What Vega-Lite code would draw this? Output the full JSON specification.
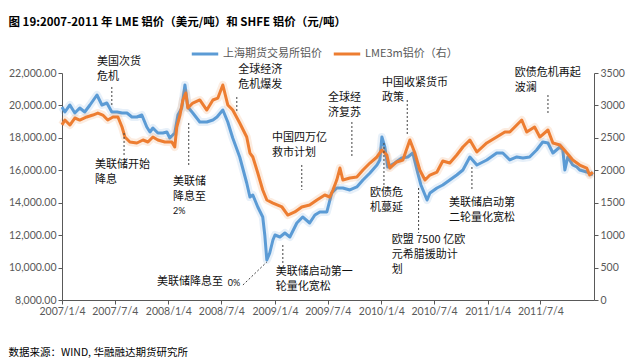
{
  "$schema": "https://vega.github.io/schema/vega-lite/v6.json",
  "autosize": {"type": "none"},
  "padding": {"left": 62, "top": 73, "right": 46, "bottom": 62},
  "width": 532,
  "height": 227,
  "background": "white",
  "config": {
    "view": {"stroke": null},
    "axis": {
      "grid": false,
      "labelFont": "Lato",
      "labelFontSize": 10.5,
      "labelColor": "#595959",
      "domainColor": "#595959",
      "tickColor": "#595959",
      "tickSize": 4,
      "labelPadding": 2
    },
    "legend": {
      "orient": "none",
      "legendX": 128,
      "legendY": -34,
      "direction": "horizontal",
      "symbolType": "stroke",
      "symbolSize": 700,
      "symbolStrokeWidth": 3,
      "labelFont": "Noto Sans CJK SC",
      "labelFontSize": 11,
      "labelColor": "#595959",
      "labelOffset": 3,
      "columnPadding": 5
    }
  },
  "datasets": {
    "shfe": [
      {"d": "2007-01-04", "v": 19903}, {"d": "2007-01-14", "v": 19595}, {"d": "2007-01-31", "v": 20027},
      {"d": "2007-02-17", "v": 19533}, {"d": "2007-03-06", "v": 19842}, {"d": "2007-03-23", "v": 19595},
      {"d": "2007-04-10", "v": 20027}, {"d": "2007-05-04", "v": 20643}, {"d": "2007-05-21", "v": 20027},
      {"d": "2007-06-07", "v": 20150}, {"d": "2007-06-24", "v": 19595}, {"d": "2007-07-12", "v": 19595},
      {"d": "2007-07-29", "v": 19533}, {"d": "2007-08-15", "v": 19533}, {"d": "2007-09-01", "v": 19287},
      {"d": "2007-09-18", "v": 19287}, {"d": "2007-10-05", "v": 19410}, {"d": "2007-10-22", "v": 18670},
      {"d": "2007-11-02", "v": 18361}, {"d": "2007-11-12", "v": 18608}, {"d": "2007-11-29", "v": 18300},
      {"d": "2007-12-16", "v": 18300}, {"d": "2007-12-30", "v": 18361}, {"d": "2008-01-09", "v": 17991},
      {"d": "2008-01-26", "v": 18300}, {"d": "2008-02-06", "v": 19410}, {"d": "2008-02-19", "v": 19842},
      {"d": "2008-03-01", "v": 21260}, {"d": "2008-03-11", "v": 19903}, {"d": "2008-03-28", "v": 19533},
      {"d": "2008-04-21", "v": 18978}, {"d": "2008-05-15", "v": 18978}, {"d": "2008-06-05", "v": 19102},
      {"d": "2008-06-19", "v": 19287}, {"d": "2008-07-09", "v": 19718}, {"d": "2008-07-26", "v": 18978},
      {"d": "2008-08-12", "v": 17991}, {"d": "2008-09-05", "v": 16820}, {"d": "2008-09-29", "v": 15216},
      {"d": "2008-10-10", "v": 14353}, {"d": "2008-10-20", "v": 14476}, {"d": "2008-11-06", "v": 13736},
      {"d": "2008-11-23", "v": 13120}, {"d": "2008-11-30", "v": 12009}, {"d": "2008-12-07", "v": 10468},
      {"d": "2008-12-17", "v": 10899}, {"d": "2008-12-28", "v": 11701}, {"d": "2009-01-04", "v": 12009},
      {"d": "2009-01-21", "v": 11886}, {"d": "2009-02-07", "v": 12133}, {"d": "2009-02-24", "v": 11886},
      {"d": "2009-03-20", "v": 12749}, {"d": "2009-04-09", "v": 13120}, {"d": "2009-05-03", "v": 12749},
      {"d": "2009-05-21", "v": 13243}, {"d": "2009-06-07", "v": 13428}, {"d": "2009-07-01", "v": 13428},
      {"d": "2009-07-18", "v": 14600}, {"d": "2009-08-04", "v": 14908}, {"d": "2009-08-25", "v": 14908},
      {"d": "2009-09-18", "v": 14785}, {"d": "2009-10-12", "v": 14970}, {"d": "2009-11-02", "v": 15401},
      {"d": "2009-11-26", "v": 15833}, {"d": "2009-12-20", "v": 16326}, {"d": "2009-12-30", "v": 16635},
      {"d": "2010-01-06", "v": 18053}, {"d": "2010-01-16", "v": 17436}, {"d": "2010-01-26", "v": 16203},
      {"d": "2010-02-19", "v": 16450}, {"d": "2010-03-15", "v": 16758}, {"d": "2010-04-05", "v": 16820},
      {"d": "2010-04-22", "v": 17066}, {"d": "2010-05-09", "v": 15833}, {"d": "2010-05-20", "v": 15093},
      {"d": "2010-05-27", "v": 14785}, {"d": "2010-06-10", "v": 14168}, {"d": "2010-06-20", "v": 14600},
      {"d": "2010-07-14", "v": 14908}, {"d": "2010-08-03", "v": 15093}, {"d": "2010-08-27", "v": 15401},
      {"d": "2010-09-20", "v": 15710}, {"d": "2010-10-11", "v": 16018}, {"d": "2010-11-04", "v": 16820},
      {"d": "2010-11-28", "v": 16326}, {"d": "2011-01-01", "v": 16635}, {"d": "2011-02-04", "v": 17066},
      {"d": "2011-02-25", "v": 17066}, {"d": "2011-03-21", "v": 16635}, {"d": "2011-04-14", "v": 16820},
      {"d": "2011-05-05", "v": 16758}, {"d": "2011-05-28", "v": 16820}, {"d": "2011-06-21", "v": 17251},
      {"d": "2011-07-12", "v": 17745}, {"d": "2011-07-30", "v": 17683}, {"d": "2011-08-16", "v": 17066},
      {"d": "2011-09-09", "v": 17436}, {"d": "2011-09-19", "v": 17251}, {"d": "2011-09-26", "v": 16018},
      {"d": "2011-10-06", "v": 16820}, {"d": "2011-10-23", "v": 16326}, {"d": "2011-11-06", "v": 16203},
      {"d": "2011-11-16", "v": 16018}, {"d": "2011-12-10", "v": 15895}, {"d": "2011-12-31", "v": 15710}
    ],
    "lme": [
      {"d": "2007-01-04", "v": 2700}, {"d": "2007-01-14", "v": 2775}, {"d": "2007-01-31", "v": 2698},
      {"d": "2007-02-17", "v": 2806}, {"d": "2007-03-06", "v": 2775}, {"d": "2007-03-30", "v": 2822},
      {"d": "2007-04-20", "v": 2852}, {"d": "2007-05-07", "v": 2883}, {"d": "2007-05-24", "v": 2852},
      {"d": "2007-06-10", "v": 2775}, {"d": "2007-06-28", "v": 2822}, {"d": "2007-07-15", "v": 2822},
      {"d": "2007-07-29", "v": 2667}, {"d": "2007-08-08", "v": 2513}, {"d": "2007-08-25", "v": 2436},
      {"d": "2007-09-18", "v": 2421}, {"d": "2007-10-09", "v": 2467}, {"d": "2007-10-26", "v": 2436},
      {"d": "2007-11-12", "v": 2513}, {"d": "2007-11-29", "v": 2467}, {"d": "2007-12-23", "v": 2436},
      {"d": "2008-01-16", "v": 2436}, {"d": "2008-01-26", "v": 2359}, {"d": "2008-02-02", "v": 2667},
      {"d": "2008-02-13", "v": 2852}, {"d": "2008-02-23", "v": 3084}, {"d": "2008-03-04", "v": 3192},
      {"d": "2008-03-11", "v": 2960}, {"d": "2008-03-28", "v": 3037}, {"d": "2008-04-21", "v": 3084},
      {"d": "2008-05-15", "v": 2929}, {"d": "2008-06-05", "v": 3084}, {"d": "2008-06-22", "v": 3114},
      {"d": "2008-07-09", "v": 3315}, {"d": "2008-07-26", "v": 3007}, {"d": "2008-08-12", "v": 2929},
      {"d": "2008-09-05", "v": 2729}, {"d": "2008-09-29", "v": 2513}, {"d": "2008-10-10", "v": 2266},
      {"d": "2008-10-20", "v": 2205}, {"d": "2008-11-06", "v": 1958}, {"d": "2008-11-23", "v": 1696},
      {"d": "2008-12-07", "v": 1542}, {"d": "2008-12-28", "v": 1495}, {"d": "2009-01-28", "v": 1434},
      {"d": "2009-02-17", "v": 1310}, {"d": "2009-03-13", "v": 1357}, {"d": "2009-04-06", "v": 1434},
      {"d": "2009-05-03", "v": 1465}, {"d": "2009-05-28", "v": 1542}, {"d": "2009-06-24", "v": 1619},
      {"d": "2009-07-11", "v": 1588}, {"d": "2009-07-22", "v": 1696}, {"d": "2009-08-04", "v": 1850},
      {"d": "2009-08-15", "v": 2035}, {"d": "2009-08-25", "v": 1850}, {"d": "2009-09-18", "v": 1881},
      {"d": "2009-10-12", "v": 1896}, {"d": "2009-11-02", "v": 2004}, {"d": "2009-11-26", "v": 2112},
      {"d": "2009-12-20", "v": 2205}, {"d": "2010-01-06", "v": 2313}, {"d": "2010-01-23", "v": 2236},
      {"d": "2010-02-02", "v": 2035}, {"d": "2010-02-26", "v": 2128}, {"d": "2010-03-19", "v": 2158},
      {"d": "2010-04-12", "v": 2467}, {"d": "2010-04-29", "v": 2266}, {"d": "2010-05-16", "v": 2004},
      {"d": "2010-06-03", "v": 1850}, {"d": "2010-06-20", "v": 1927}, {"d": "2010-07-14", "v": 1973},
      {"d": "2010-08-03", "v": 2143}, {"d": "2010-08-27", "v": 2112}, {"d": "2010-09-20", "v": 2236},
      {"d": "2010-10-11", "v": 2359}, {"d": "2010-11-04", "v": 2467}, {"d": "2010-11-28", "v": 2282},
      {"d": "2011-01-01", "v": 2421}, {"d": "2011-02-04", "v": 2513}, {"d": "2011-03-04", "v": 2590},
      {"d": "2011-03-21", "v": 2590}, {"d": "2011-04-14", "v": 2698}, {"d": "2011-05-01", "v": 2775},
      {"d": "2011-05-18", "v": 2590}, {"d": "2011-06-14", "v": 2667}, {"d": "2011-07-02", "v": 2513},
      {"d": "2011-07-30", "v": 2621}, {"d": "2011-08-16", "v": 2421}, {"d": "2011-09-09", "v": 2390},
      {"d": "2011-10-03", "v": 2266}, {"d": "2011-10-23", "v": 2158}, {"d": "2011-11-16", "v": 2081},
      {"d": "2011-12-10", "v": 2035}, {"d": "2011-12-20", "v": 1927}, {"d": "2011-12-31", "v": 1973}
    ],
    "notes": [
      {"t": "美国次货\n危机", "d": "2007-05-04", "v": 23048},
      {"t": "美联储开始\n降息", "d": "2007-04-27", "v": 16696},
      {"t": "美联储\n降息至", "d": "2008-01-20", "v": 15648},
      {"t": "全球经济\n危机爆发", "d": "2008-08-31", "v": 22555},
      {"t": "中国四万亿\n救市计划", "d": "2008-12-25", "v": 18361},
      {"t": "全球经\n济复苏", "d": "2009-07-05", "v": 20828},
      {"t": "中国收紧货币\n政策", "d": "2010-01-06", "v": 21753},
      {"t": "欧债危\n机蔓延", "d": "2009-11-26", "v": 14970},
      {"t": "欧盟 7500 亿欧\n元希腊援助计\n划", "d": "2010-02-09", "v": 12071},
      {"t": "美联储启动第\n二轮量化宽松", "d": "2010-08-24", "v": 14353},
      {"t": "欧债危机再起\n波澜", "d": "2011-04-07", "v": 22370},
      {"t": "美联储降息至", "d": "2007-11-26", "v": 9481},
      {"t": "美联储启动第一\n轮量化宽松", "d": "2009-01-07", "v": 10098}
    ],
    "small": [
      {"t": "2%", "d": "2008-01-20", "v": 13736},
      {"t": "0%", "d": "2008-07-26", "v": 9296}
    ],
    "leaders": [
      {"d": "2007-06-24", "v": 21137, "v2": 20027},
      {"d": "2007-08-05", "v": 18300, "v2": 16943},
      {"d": "2008-03-14", "v": 18917, "v2": 16203},
      {"d": "2008-08-26", "v": 20520, "v2": 19595},
      {"d": "2009-04-06", "v": 16326, "v2": 14785},
      {"d": "2009-09-25", "v": 18978, "v2": 16820},
      {"d": "2010-04-03", "v": 20335, "v2": 18176},
      {"d": "2010-01-13", "v": 17683, "v2": 14970},
      {"d": "2010-05-12", "v": 14908, "v2": 12133},
      {"d": "2010-11-11", "v": 16203, "v2": 14785},
      {"d": "2011-07-30", "v": 20643, "v2": 19410},
      {"d": "2009-01-31", "v": 11393, "v2": 10160}
    ],
    "diag": [
      {"d": "2008-09-16", "v": 8926, "d2": "2008-12-07", "v2": 10344}
    ]
  },
  "encoding": {
    "x": {
      "field": "d",
      "type": "temporal",
      "scale": {"domain": [{"year": 2007, "month": 1, "date": 4}, {"year": 2012, "month": 1, "date": 4}]},
      "axis": {
        "values": [
          {"year": 2007, "month": 1, "date": 4}, {"year": 2007, "month": 7, "date": 4},
          {"year": 2008, "month": 1, "date": 4}, {"year": 2008, "month": 7, "date": 4},
          {"year": 2009, "month": 1, "date": 4}, {"year": 2009, "month": 7, "date": 4},
          {"year": 2010, "month": 1, "date": 4}, {"year": 2010, "month": 7, "date": 4},
          {"year": 2011, "month": 1, "date": 4}, {"year": 2011, "month": 7, "date": 4}
        ],
        "format": "%Y/%-m/%-d",
        "labelFlush": false,
        "labelOverlap": false,
        "title": "数据来源：WIND, 华融融达期货研究所",
        "titleFont": "Noto Sans CJK SC",
        "titleFontSize": 10.5,
        "titleFontWeight": "normal",
        "titleColor": "#000000",
        "titleAnchor": "start",
        "titleAlign": "left",
        "titleBaseline": "middle",
        "titleX": -54,
        "titleY": 52
      }
    }
  },
  "layer": [
    {
      "data": {"name": "shfe"},
      "mark": {"type": "line", "color": "#5B9BD5", "strokeWidth": 8, "opacity": 0.15, "strokeJoin": "round"},
      "encoding": {
        "y": {"field": "v", "type": "quantitative", "scale": {"domain": [8000, 22000]}, "axis": null}
      }
    },
    {
      "data": {"name": "shfe"},
      "mark": {"type": "line", "strokeWidth": 3, "strokeJoin": "round"},
      "encoding": {
        "y": {
          "field": "v",
          "type": "quantitative",
          "scale": {"domain": [8000, 22000]},
          "axis": {
            "orient": "left",
            "values": [8000, 10000, 12000, 14000, 16000, 18000, 20000, 22000],
            "format": ",.2f",
            "title": "图 19:2007-2011 年 LME 铝价（美元/吨）和 SHFE 铝价（元/吨）",
            "titleAngle": 0,
            "titleAnchor": "start",
            "titleAlign": "left",
            "titleBaseline": "middle",
            "titleX": -54,
            "titleY": -51,
            "titleFont": "Noto Sans CJK SC",
            "titleFontSize": 11.5,
            "titleFontWeight": "bold",
            "titleColor": "#000000"
          }
        },
        "color": {
          "datum": "上海期货交易所铝价",
          "scale": {"domain": ["上海期货交易所铝价", "LME3m铝价（右）"], "range": ["#5B9BD5", "#ED7D31"]},
          "legend": {"title": null}
        }
      }
    },
    {
      "data": {"name": "lme"},
      "mark": {"type": "line", "color": "#ED7D31", "strokeWidth": 8, "opacity": 0.15, "strokeJoin": "round"},
      "encoding": {
        "y": {"field": "v", "type": "quantitative", "scale": {"domain": [0, 3500]}, "axis": null}
      }
    },
    {
      "data": {"name": "lme"},
      "mark": {"type": "line", "strokeWidth": 3, "strokeJoin": "round"},
      "encoding": {
        "y": {
          "field": "v",
          "type": "quantitative",
          "scale": {"domain": [0, 3500]},
          "axis": {
            "orient": "right",
            "values": [0, 500, 1000, 1500, 2000, 2500, 3000, 3500],
            "format": "d",
            "title": null
          }
        },
        "color": {"datum": "LME3m铝价（右）"}
      }
    },
    {
      "data": {"name": "leaders"},
      "mark": {"type": "rule", "color": "#404040", "strokeWidth": 1, "strokeDash": [2, 2]},
      "encoding": {
        "y": {"field": "v", "type": "quantitative", "scale": {"domain": [8000, 22000]}, "axis": null},
        "y2": {"field": "v2"}
      }
    },
    {
      "data": {"name": "diag"},
      "mark": {"type": "rule", "color": "#404040", "strokeWidth": 1, "strokeDash": [2, 2]},
      "encoding": {
        "x2": {"field": "d2"},
        "y": {"field": "v", "type": "quantitative", "scale": {"domain": [8000, 22000]}, "axis": null},
        "y2": {"field": "v2"}
      }
    },
    {
      "data": {"name": "notes"},
      "mark": {"type": "text", "align": "left", "baseline": "top", "font": "Noto Sans CJK SC", "fontSize": 11, "lineHeight": 15, "lineBreak": "\n", "color": "#111111"},
      "encoding": {
        "y": {"field": "v", "type": "quantitative", "scale": {"domain": [8000, 22000]}, "axis": null},
        "text": {"field": "t"}
      }
    },
    {
      "data": {"name": "small"},
      "mark": {"type": "text", "align": "left", "baseline": "top", "font": "Lato", "fontSize": 9, "color": "#111111"},
      "encoding": {
        "y": {"field": "v", "type": "quantitative", "scale": {"domain": [8000, 22000]}, "axis": null},
        "text": {"field": "t"}
      }
    }
  ],
  "resolve": {"scale": {"y": "independent"}, "axis": {"y": "independent"}}
}
